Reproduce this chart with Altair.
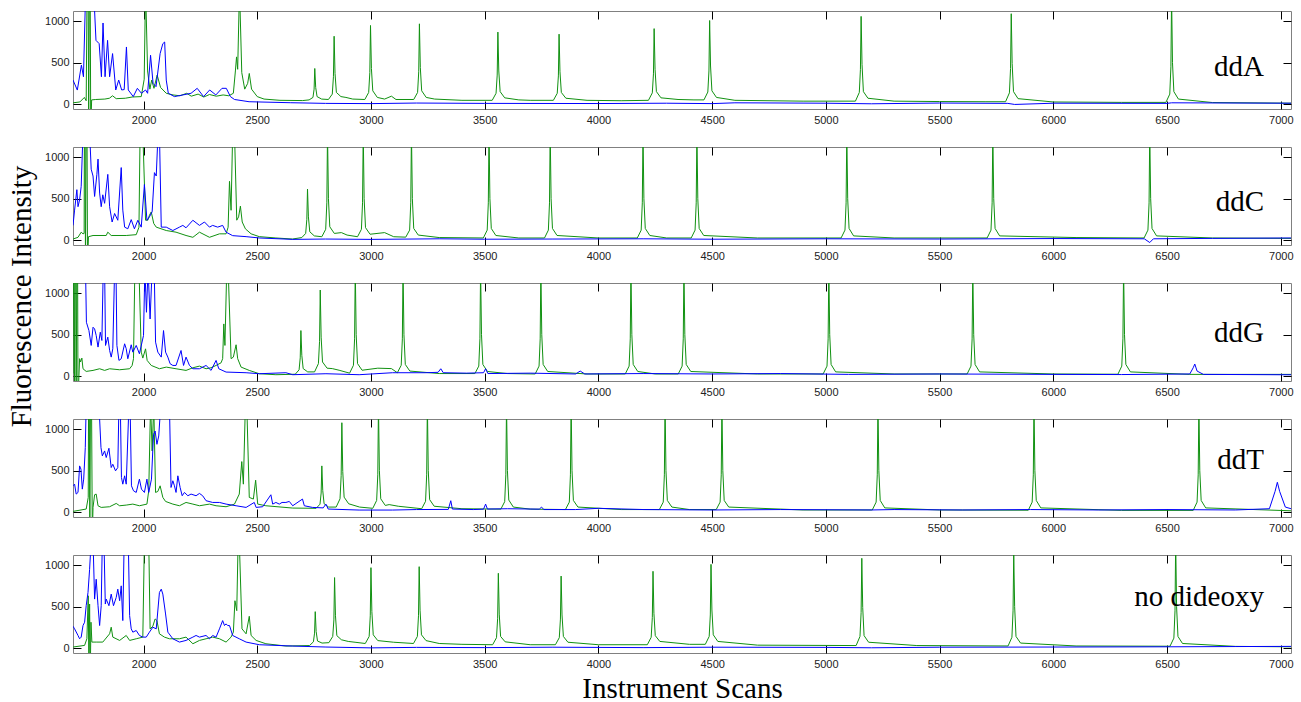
import altair as alt
import pandas as pd

X_DOMAIN = [1690, 7045]
Y_DOMAIN = [-60, 1125]
X_TICKS = [2000, 2500, 3000, 3500, 4000, 4500, 5000, 5500, 6000, 6500, 7000]
Y_TICKS = [0, 500, 1000]
PANEL_NAMES = ["ddA", "ddC", "ddG", "ddT", "no dideoxy"]

# ---------------- ddA ----------------
ddA_green = [
    [1690, 15], [1720, 25], [1740, 80], [1748, 40], [1755, 2500], [1759, -300], [1764, 2500], [1768, -300],
    [1772, 50], [1790, 55], [1830, 60], [1850, 70], [1864, 100], [1880, 65], [1920, 70], [1950, 85],
    [1990, 90], [2003, 300], [2009, 1400], [2018, 400], [2028, 180], [2036, 290], [2046, 190], [2060, 350],
    [2075, 200], [2100, 130], [2130, 110], [2160, 100], [2190, 130], [2210, 95], [2240, 120], [2265, 85],
    [2290, 115], [2320, 95], [2350, 110], [2375, 100], [2395, 130], [2404, 400], [2409, 570], [2414, 420],
    [2422, 1400], [2432, 380], [2445, 180], [2458, 250], [2465, 370], [2475, 180], [2500, 90], [2530, 60],
    [2600, 45], [2700, 42],
    [2728, 50], [2745, 80], [2750, 180], [2753, 430], [2757, 200], [2763, 90], [2783, 60],
    [2813, 55], [2830, 120], [2835, 330], [2838, 820], [2842, 370], [2848, 140], [2868, 90], [2890, 80], [2920, 60],
    [2973, 55], [2990, 140], [2995, 380], [2998, 950], [3002, 430], [3008, 160], [3028, 80], [3060, 60], [3090, 95], [3110, 55],
    [3188, 55], [3205, 140], [3210, 390], [3213, 970], [3217, 440], [3223, 160], [3243, 80], [3280, 60], [3400, 45],
    [3533, 45], [3550, 130], [3555, 350], [3558, 870], [3562, 400], [3568, 150], [3588, 75], [3650, 50], [3700, 45],
    [3802, 45], [3819, 130], [3824, 340], [3827, 845], [3831, 390], [3837, 140], [3857, 70], [3950, 45], [4100, 40],
    [4220, 45], [4237, 135], [4242, 365], [4245, 912], [4249, 420], [4255, 150], [4275, 75], [4350, 55], [4420, 50],
    [4464, 50], [4481, 145], [4486, 400], [4489, 1010], [4493, 460], [4499, 160], [4519, 80], [4600, 45], [4900, 35],
    [5130, 35], [5147, 140], [5152, 420], [5155, 1060], [5159, 480], [5165, 150], [5185, 70], [5300, 35], [5500, 30], [5700, 28],
    [5790, 28], [5807, 135], [5812, 430], [5815, 1092], [5819, 490], [5825, 150], [5845, 65], [6000, 25], [6300, 20],
    [6495, 20], [6512, 120], [6517, 450], [6520, 1300], [6524, 500], [6530, 150], [6550, 60], [6700, 18], [7045, 10],
]
ddA_blue = [
    [1690, 290], [1709, 169], [1727, 470], [1736, 330], [1745, 1300], [1782, 1300], [1791, 770], [1805, 730],
    [1815, 330], [1822, 980], [1831, 330], [1842, 770], [1851, 330], [1864, 610], [1878, 170], [1891, 290],
    [1904, 170], [1915, 175], [1925, 690], [1933, 170], [1955, 90], [1973, 190], [1991, 130], [2009, 170],
    [2018, 130], [2031, 590], [2042, 250], [2055, 210], [2073, 610], [2085, 730], [2093, 750], [2100, 290],
    [2109, 130], [2136, 90], [2173, 110], [2209, 130], [2236, 190], [2264, 90], [2291, 170], [2318, 110],
    [2345, 190], [2364, 190], [2382, 90], [2400, 55], [2464, 28], [2645, 16], [2800, 8], [3000, 5],
    [3200, 12], [3500, 8], [4000, 6], [4300, 10], [4500, 5], [4600, 15], [5000, 10], [5200, 3],
    [5500, 12], [5800, 8], [5830, -5], [6000, 10], [6500, 8], [6520, 15], [7045, 10],
]

# ---------------- ddC ----------------
ddC_green = [
    [1690, 12], [1712, 33], [1726, 95], [1734, 75], [1739, 80], [1741, 2500], [1745, -300], [1750, 2500],
    [1754, -300], [1758, 40], [1778, 55], [1836, 55], [1843, 95], [1858, 55], [1924, 55], [1968, 65],
    [1980, 155], [1985, 1300], [1997, 1300], [2009, 240], [2019, 240], [2026, 300], [2034, 340], [2045, 200],
    [2056, 156], [2100, 115], [2143, 95], [2187, 55], [2217, 33], [2246, 95], [2290, 33], [2334, 75],
    [2363, 75], [2372, 155], [2378, 710], [2385, 360], [2392, 1300], [2400, 1300], [2410, 240], [2418, 280],
    [2426, 410], [2434, 218], [2448, 135], [2473, 75], [2509, 41], [2582, 25], [2655, 12],
    [2696, 30], [2713, 80], [2718, 250], [2721, 617], [2725, 280], [2731, 100], [2751, 50],
    [2784, 40], [2801, 130], [2806, 450], [2809, 1300], [2813, 500], [2819, 160], [2839, 80], [2870, 90], [2895, 60],
    [2941, 40], [2958, 130], [2963, 450], [2966, 1300], [2970, 500], [2976, 150], [2996, 70], [3060, 90], [3100, 40],
    [3153, 35], [3170, 120], [3175, 450], [3178, 1300], [3182, 500], [3188, 140], [3208, 60], [3300, 30],
    [3494, 25], [3511, 120], [3516, 450], [3519, 1300], [3523, 500], [3529, 140], [3549, 55], [3650, 25],
    [3763, 25], [3780, 120], [3785, 450], [3788, 1300], [3792, 500], [3798, 140], [3818, 55], [4000, 25],
    [4171, 25], [4188, 120], [4193, 450], [4196, 1300], [4200, 500], [4206, 140], [4226, 55], [4300, 25],
    [4408, 25], [4425, 120], [4430, 450], [4433, 1300], [4437, 500], [4443, 140], [4463, 55], [4700, 25],
    [5067, 25], [5084, 120], [5089, 450], [5092, 1300], [5096, 500], [5102, 140], [5122, 50], [5300, 25],
    [5709, 25], [5726, 120], [5731, 450], [5734, 1300], [5738, 500], [5744, 140], [5764, 50], [6100, 30],
    [6399, 25], [6416, 120], [6421, 450], [6424, 1300], [6428, 500], [6434, 140], [6454, 50], [6700, 25], [7045, 20],
]
ddC_blue = [
    [1690, 177], [1697, 362], [1707, 609], [1712, 403], [1719, 486], [1726, 650], [1734, 1300], [1763, 1300],
    [1770, 856], [1778, 774], [1785, 527], [1795, 794], [1800, 979], [1807, 568], [1814, 403], [1821, 547],
    [1829, 444], [1843, 794], [1851, 403], [1862, 218], [1873, 321], [1887, 239], [1902, 876], [1909, 362],
    [1917, 156], [1931, 136], [1946, 247], [1960, 136], [1975, 239], [1990, 156], [2004, 671], [2015, 239],
    [2026, 280], [2038, 342], [2048, 815], [2056, 774], [2064, 1300], [2070, 1300], [2078, 156], [2100, 156],
    [2129, 115], [2158, 156], [2173, 177], [2187, 148], [2217, 239], [2246, 177], [2268, 218], [2290, 156],
    [2304, 177], [2326, 156], [2348, 177], [2363, 95], [2392, 53], [2451, 41], [2509, 25], [2656, 8],
    [2800, 12], [3000, 8], [3300, 15], [3500, 10], [3800, 12], [4200, 15], [4500, 10], [5000, 15],
    [5500, 12], [6000, 18], [6400, 15], [6424, -30], [6440, 15], [6700, 20], [7045, 25],
]

# ---------------- ddG ----------------
ddG_green = [
    [1690, 30], [1694, 2500], [1697, -300], [1701, 2500], [1704, -300], [1709, 2500], [1712, -300],
    [1719, 210], [1723, 170], [1729, 217], [1734, 88], [1748, 56], [1778, 68], [1807, 88], [1829, 68],
    [1851, 88], [1895, 76], [1939, 88], [1950, 128], [1956, 210], [1962, 1300], [1980, 1300], [1990, 289],
    [1997, 217], [2009, 329], [2016, 189], [2034, 128], [2070, 88], [2100, 108], [2143, 88], [2187, 68],
    [2217, 100], [2246, 120], [2275, 88], [2297, 100], [2319, 128], [2341, 160], [2348, 210], [2353, 630],
    [2358, 370], [2366, 1300], [2372, 1300], [2385, 210], [2395, 229], [2407, 378], [2414, 210], [2429, 108],
    [2465, 68], [2509, 28], [2582, 16],
    [2667, 22], [2684, 75], [2689, 220], [2692, 550], [2696, 250], [2702, 90], [2722, 50],
    [2752, 50], [2769, 150], [2774, 420], [2777, 1040], [2781, 470], [2787, 170], [2807, 95], [2830, 90], [2860, 70],
    [2906, 35], [2923, 130], [2928, 450], [2931, 1300], [2935, 500], [2941, 150], [2961, 70], [3030, 95], [3090, 90],
    [3116, 40], [3133, 130], [3138, 450], [3141, 1300], [3145, 500], [3151, 140], [3171, 60], [3300, 30],
    [3457, 30], [3474, 120], [3479, 450], [3482, 1300], [3486, 500], [3492, 140], [3512, 55], [3600, 30],
    [3722, 25], [3739, 120], [3744, 450], [3747, 1300], [3751, 500], [3757, 140], [3777, 55], [3950, 25],
    [4118, 25], [4135, 120], [4140, 450], [4143, 1300], [4147, 500], [4153, 140], [4173, 55], [4250, 25],
    [4351, 25], [4368, 120], [4373, 450], [4376, 1300], [4380, 500], [4386, 140], [4406, 55], [4700, 25],
    [4988, 25], [5005, 120], [5010, 450], [5013, 1300], [5017, 500], [5023, 140], [5043, 50], [5300, 25],
    [5621, 25], [5638, 120], [5643, 450], [5646, 1300], [5650, 500], [5656, 140], [5676, 50], [6000, 25],
    [6284, 22], [6301, 120], [6306, 450], [6309, 1300], [6313, 500], [6319, 140], [6339, 50], [6600, 20], [7045, 20],
]
ddG_blue = [
    [1690, 1300], [1745, 1300], [1749, 650], [1760, 550], [1770, 370], [1778, 590], [1785, 570], [1792, 490],
    [1800, 350], [1810, 530], [1817, 430], [1823, 1300], [1829, 1300], [1833, 370], [1843, 470], [1851, 310],
    [1858, 229], [1865, 330], [1873, 1300], [1879, 1300], [1883, 370], [1892, 189], [1902, 209], [1917, 390],
    [1924, 330], [1931, 209], [1946, 378], [1953, 289], [1968, 370], [1982, 269], [2000, 490], [2006, 1300],
    [2013, 771], [2020, 1300], [2029, 690], [2038, 1300], [2047, 1300], [2053, 410], [2063, 289], [2078, 229],
    [2088, 550], [2097, 289], [2107, 229], [2117, 149], [2129, 128], [2143, 128], [2165, 309], [2176, 128],
    [2187, 229], [2202, 128], [2217, 88], [2246, 88], [2275, 128], [2297, 68], [2319, 189], [2331, 88],
    [2363, 48], [2451, 40], [2509, 28], [2626, 40], [2656, 16], [2802, 28], [2948, 16], [3095, 40],
    [3241, 40], [3295, 45], [3307, 88], [3318, 40], [3420, 35], [3495, 40], [3504, 88], [3514, 30],
    [3700, 35], [3900, 25], [3920, 60], [3940, 25], [4200, 30], [4500, 25], [4800, 30], [5100, 20],
    [5500, 25], [6000, 20], [6300, 18], [6600, 25], [6615, 100], [6622, 145], [6632, 60], [6660, 20], [7045, 15],
]

# ---------------- ddT ----------------
ddT_green = [
    [1690, 8], [1748, 36], [1757, 177], [1760, 2500], [1764, -300], [1769, 2500], [1775, -300], [1778, 56],
    [1785, 209], [1792, 217], [1800, 76], [1814, 56], [1851, 64], [1880, 104], [1895, 76], [1924, 84],
    [1953, 96], [1982, 76], [2015, 96], [2023, 257], [2031, 1300], [2038, 739], [2045, 1300], [2053, 237],
    [2063, 249], [2073, 317], [2085, 177], [2097, 128], [2129, 96], [2158, 76], [2187, 116], [2217, 96],
    [2246, 76], [2290, 96], [2319, 76], [2363, 64], [2400, 96], [2421, 217], [2432, 610], [2439, 337],
    [2448, 1300], [2454, 1300], [2465, 177], [2483, 157], [2493, 385], [2502, 96], [2538, 76], [2656, 48],
    [2759, 45], [2776, 95], [2781, 230], [2784, 558], [2788, 260], [2794, 100], [2814, 60],
    [2847, 60], [2864, 160], [2869, 440], [2872, 1080], [2876, 490], [2882, 180], [2902, 100], [2950, 60],
    [3008, 45], [3025, 140], [3030, 450], [3033, 1300], [3037, 500], [3043, 160], [3063, 80], [3080, 90], [3120, 70],
    [3223, 40], [3240, 130], [3245, 450], [3248, 1300], [3252, 500], [3258, 150], [3278, 70], [3400, 40],
    [3571, 35], [3588, 125], [3593, 450], [3596, 1300], [3600, 500], [3606, 145], [3626, 60], [3700, 35],
    [3855, 30], [3872, 120], [3877, 450], [3880, 1300], [3884, 500], [3890, 140], [3910, 60], [4100, 30],
    [4268, 30], [4285, 120], [4290, 450], [4293, 1300], [4297, 500], [4303, 140], [4323, 60], [4400, 30],
    [4518, 30], [4535, 120], [4540, 450], [4543, 1300], [4547, 500], [4553, 140], [4573, 60], [4900, 25],
    [5204, 25], [5221, 120], [5226, 450], [5229, 1300], [5233, 500], [5239, 140], [5259, 50], [5500, 25],
    [5890, 22], [5907, 120], [5912, 450], [5915, 1300], [5919, 500], [5925, 140], [5945, 50], [6300, 20],
    [6615, 20], [6632, 120], [6637, 450], [6640, 1300], [6644, 500], [6650, 140], [6670, 50], [7045, 15],
]
ddT_blue = [
    [1690, 317], [1697, 337], [1704, 217], [1712, 237], [1719, 558], [1725, 518], [1731, 277], [1737, 398],
    [1744, 779], [1748, 1300], [1804, 1300], [1813, 779], [1819, 679], [1829, 739], [1836, 659], [1848, 771],
    [1858, 538], [1865, 578], [1877, 498], [1887, 538], [1892, 1300], [1898, 1300], [1903, 418], [1909, 337],
    [1917, 438], [1924, 337], [1936, 1300], [1941, 1300], [1947, 317], [1956, 257], [1968, 237], [1982, 398],
    [1991, 277], [2004, 237], [2015, 398], [2023, 237], [2035, 398], [2044, 940], [2051, 980], [2059, 819],
    [2067, 920], [2076, 1300], [2114, 1300], [2121, 297], [2129, 378], [2136, 317], [2143, 237], [2151, 438],
    [2161, 297], [2170, 197], [2180, 237], [2195, 197], [2209, 217], [2231, 197], [2246, 225], [2260, 197],
    [2275, 137], [2304, 116], [2334, 116], [2363, 96], [2407, 76], [2451, 56], [2487, 116], [2495, 56],
    [2524, 64], [2560, 209], [2568, 96], [2582, 116], [2597, 96], [2609, 116], [2626, 116], [2641, 128],
    [2656, 76], [2699, 157], [2707, 76], [2743, 56], [2790, 50], [2802, 96], [2812, 36], [2948, 24],
    [3095, 24], [3200, 30], [3340, 32], [3351, 137], [3358, 36], [3450, 30], [3495, 35], [3504, 96],
    [3512, 36], [3600, 40], [3740, 35], [3750, 60], [3760, 30], [3900, 30], [4000, 45], [4200, 30],
    [4500, 25], [4800, 30], [5200, 25], [5300, 30], [5600, 25], [5900, 30], [6200, 25], [6500, 30],
    [6800, 25], [6950, 40], [6975, 250], [6985, 360], [6995, 250], [7020, 60], [7045, 40],
]

# ---------------- no dideoxy ----------------
nd_green = [
    [1690, 12], [1741, 32], [1751, 112], [1757, 632], [1760, -300], [1763, 532], [1766, -300], [1769, 312],
    [1773, 72], [1792, 72], [1821, 72], [1851, 172], [1858, 252], [1865, 132], [1895, 92], [1924, 152],
    [1939, 92], [1968, 112], [1997, 132], [2004, 1300], [2023, 1300], [2029, 232], [2041, 264], [2051, 352],
    [2059, 332], [2070, 172], [2092, 132], [2114, 112], [2158, 112], [2187, 132], [2217, 52], [2246, 92],
    [2275, 112], [2304, 132], [2334, 112], [2363, 72], [2385, 132], [2395, 192], [2402, 572], [2410, 452],
    [2416, 1300], [2421, 1300], [2433, 232], [2451, 172], [2465, 384], [2473, 152], [2495, 92], [2538, 52],
    [2626, 24],
    [2730, 30], [2747, 75], [2752, 180], [2755, 440], [2759, 200], [2765, 85], [2785, 60],
    [2815, 65], [2832, 140], [2837, 340], [2840, 852], [2844, 390], [2850, 150], [2870, 100], [2900, 80], [2930, 70],
    [2975, 55], [2992, 140], [2997, 390], [3000, 972], [3004, 440], [3010, 160], [3030, 90], [3100, 70],
    [3187, 55], [3204, 140], [3209, 390], [3212, 984], [3216, 450], [3222, 160], [3242, 90], [3300, 55], [3400, 45],
    [3535, 40], [3552, 125], [3557, 360], [3560, 904], [3564, 410], [3570, 140], [3590, 75], [3700, 40],
    [3811, 40], [3828, 125], [3833, 350], [3836, 870], [3840, 400], [3846, 140], [3866, 70], [4000, 40],
    [4215, 40], [4232, 130], [4237, 370], [4240, 928], [4244, 420], [4250, 150], [4270, 80], [4400, 45],
    [4470, 45], [4487, 140], [4492, 400], [4495, 1012], [4499, 460], [4505, 160], [4525, 80], [4700, 35],
    [5133, 30], [5150, 140], [5155, 430], [5158, 1085], [5162, 490], [5168, 150], [5188, 70], [5400, 30],
    [5801, 25], [5818, 130], [5823, 450], [5826, 1150], [5830, 500], [5836, 140], [5856, 60], [6100, 25],
    [6513, 22], [6530, 120], [6535, 450], [6538, 1300], [6542, 500], [6548, 140], [6568, 55], [6800, 20], [7045, 15],
]
nd_blue = [
    [1690, 264], [1697, 232], [1712, 152], [1719, 112], [1726, 132], [1734, 272], [1741, 312], [1748, 512],
    [1756, 672], [1763, 952], [1770, 1300], [1778, 1300], [1785, 592], [1792, 832], [1800, 512], [1807, 272],
    [1814, 512], [1819, 1300], [1826, 1300], [1832, 532], [1836, 592], [1848, 512], [1858, 652], [1868, 512],
    [1880, 612], [1887, 712], [1895, 572], [1902, 752], [1909, 332], [1915, 1300], [1933, 1300], [1939, 392],
    [1946, 232], [1953, 192], [1968, 212], [1982, 152], [1997, 132], [2012, 132], [2026, 192], [2041, 252],
    [2056, 232], [2070, 672], [2078, 712], [2085, 652], [2097, 412], [2107, 192], [2129, 112], [2158, 72],
    [2187, 92], [2217, 132], [2231, 152], [2246, 132], [2275, 152], [2290, 112], [2304, 152], [2319, 132],
    [2334, 232], [2348, 332], [2356, 272], [2363, 292], [2370, 272], [2378, 272], [2392, 152], [2421, 112],
    [2451, 72], [2509, 40], [2656, 24], [2802, 12], [3000, 2], [3200, 8], [3500, 5], [3800, 10],
    [4200, 5], [4500, 10], [5000, 8], [5200, 3], [5500, 10], [6000, 12], [6500, 15], [6800, 18], [7045, 20],
]

GREENS = [ddA_green, ddC_green, ddG_green, ddT_green, nd_green]
BLUES = [ddA_blue, ddC_blue, ddG_blue, ddT_blue, nd_blue]
LABEL_Y = [56, 55, 50, 41, 42]

GREEN = "#119111"
BLUE = "#0000ff"
TICK_FONT = "'Liberation Sans Narrow', 'Arial Narrow', 'Liberation Sans', sans-serif"
SERIF = "'Liberation Serif', 'Times New Roman', serif"
W, H = 1218, 98

xs = alt.Scale(domain=X_DOMAIN, nice=False, zero=False)
ys = alt.Scale(domain=Y_DOMAIN, nice=False, zero=False)


def label_axis_x(title):
    kw = dict(orient="bottom", values=X_TICKS, format="d", ticks=False, tickSize=0, domain=False, grid=False,
              labelFont=TICK_FONT, labelFontSize=11, labelColor="#222", labelPadding=5)
    if title:
        kw.update(title=title, titleFont=SERIF, titleFontSize=29, titleFontWeight="normal",
                  titleColor="#000", titleY=21)
    else:
        kw.update(title=None)
    return alt.Axis(**kw)


def label_axis_y(title):
    kw = dict(orient="left", values=Y_TICKS, format="d", ticks=False, tickSize=0, domain=False, grid=False,
              labelFont=TICK_FONT, labelFontSize=11, labelColor="#222", labelPadding=4)
    if title:
        kw.update(title=title, titleFont=SERIF, titleFontSize=29, titleFontWeight="normal",
                  titleColor="#000", titleX=-37, titleY=13)
    else:
        kw.update(title=None)
    return alt.Axis(**kw)


def tick_axis(orient, values):
    return alt.Axis(orient=orient, values=values, labels=False, ticks=True, tickSize=8, tickColor="#000",
                    tickWidth=1, domain=False, grid=False, offset=-8, title=None)


def panel(i):
    g = pd.DataFrame(GREENS[i], columns=["scan", "intensity"])
    b = pd.DataFrame(BLUES[i], columns=["scan", "intensity"])
    xt = pd.DataFrame({"scan": X_TICKS})
    yt = pd.DataFrame({"intensity": Y_TICKS})
    lab = pd.DataFrame({"label": [PANEL_NAMES[i]]})

    x_title = "Instrument Scans" if i == 4 else None
    y_title = "Fluorescence Intensity" if i == 2 else None

    green = alt.Chart(g).mark_line(color=GREEN, strokeWidth=1, clip=True).encode(
        x=alt.X("scan:Q", scale=xs, axis=label_axis_x(x_title)),
        y=alt.Y("intensity:Q", scale=ys, axis=label_axis_y(y_title)),
    )
    blue = alt.Chart(b).mark_line(color=BLUE, strokeWidth=1, clip=True).encode(
        x=alt.X("scan:Q", scale=xs, axis=tick_axis("bottom", X_TICKS)),
        y=alt.Y("intensity:Q", scale=ys, axis=tick_axis("left", Y_TICKS)),
    )
    top_ticks = alt.Chart(xt).mark_rule(opacity=0).encode(
        x=alt.X("scan:Q", scale=xs, axis=tick_axis("top", X_TICKS)),
    )
    right_ticks = alt.Chart(yt).mark_rule(opacity=0).encode(
        y=alt.Y("intensity:Q", scale=ys, axis=tick_axis("right", Y_TICKS)),
    )
    text = alt.Chart(lab).mark_text(align="right", baseline="middle", font=SERIF, fontSize=29,
                                    color="#000").encode(
        text="label:N", x=alt.value(1191), y=alt.value(LABEL_Y[i]),
    )
    return alt.layer(green, blue, top_ticks, right_ticks, text).resolve_axis(
        x="independent", y="independent"
    ).properties(width=W, height=H)


chart = alt.vconcat(*[panel(i) for i in range(5)], spacing=38, bounds="flush").configure_view(
    stroke="#808080", strokeWidth=1
).properties(padding={"left": 6, "top": 10, "right": 0, "bottom": 0})

chart.save("out.html", embed_options={"renderer": "svg", "actions": False})
